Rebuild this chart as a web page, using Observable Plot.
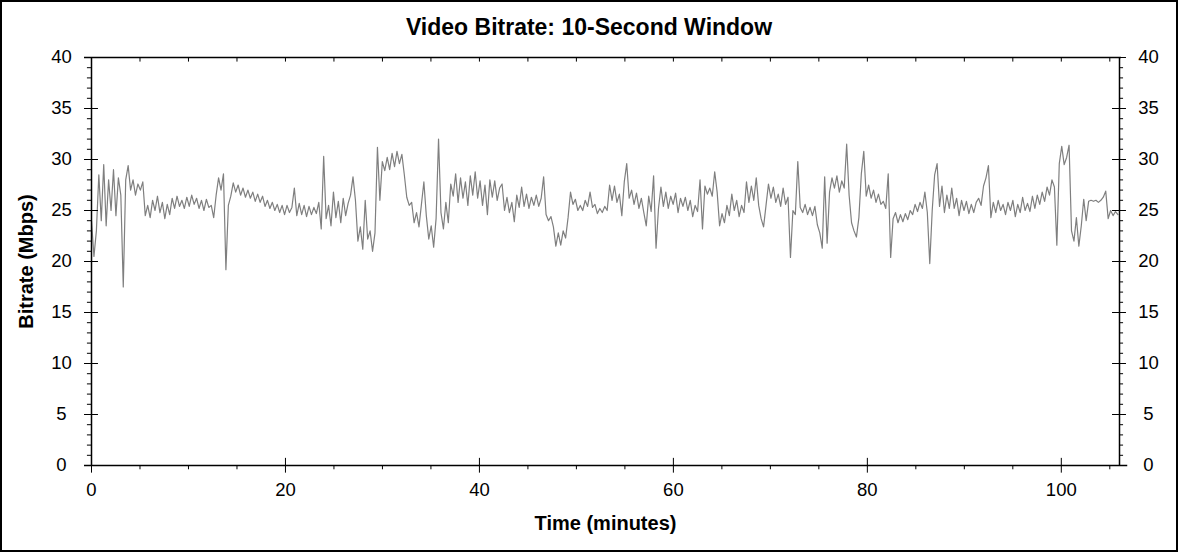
<!DOCTYPE html>
<html>
<head>
<meta charset="utf-8">
<script src="https://cdn.jsdelivr.net/npm/d3@7"></script>
<script src="https://cdn.jsdelivr.net/npm/@observablehq/plot@0.6"></script>
<style>
  body { margin: 0; background: #fff; font-family: "Liberation Sans", Arial, sans-serif; }
  #wrap { width: 1178px; height: 552px; box-sizing: border-box; border: 2px solid #000; background: #fff; }
  #title { height: 44px; line-height: 50px; text-align: center; font-weight: bold; font-size: 23px; }
  #chart svg { display: block; overflow: visible; }
</style>
</head>
<body>
<div id="wrap">
  <div id="title">Video Bitrate: 10-Second Window</div>
  <div id="chart"></div>
</div>
<script>
// bitrate (Mbps), one value per 0.252 minutes
const bitrate = [
  24, 20.5, 23, 28.5,   24, 29.5, 23.5, 28,   25, 29, 24.5, 28.2,   26.5, 17.5, 28, 29.4,   27, 28, 26.5, 27.6,
  27, 27.8, 24.5, 25.5,   24.3, 26, 25, 26.4,   24.8, 25.8, 24.2, 25.6,   24.6, 26.2, 25.2, 26.4,   25.4, 26, 25.2, 26.3,
  25.4, 26.5, 25.6, 26.2,   25.2, 26, 25, 26.1,   25.3, 25.5, 24.3, 26.5,   28.2, 27, 28.6, 19.2,   25.5, 26.4, 27.7, 26.8,
  27.5, 26.5, 27.2, 26.3,   27, 26.2, 26.8, 25.9,   26.6, 25.8, 26.4, 25.4,   26, 25.2, 25.8, 25,   25.6, 24.8, 25.5, 24.6,
  25.5, 24.8, 25.3, 27.2,   24.5, 25.7, 24.6, 25.5,   24.4, 25.4, 24.6, 25.3,   24.7, 25.8, 23.2, 30.3,   24.2, 25.5, 23.5, 26.8,
  24.3, 25.9, 23.8, 26.2,   24.5, 25.7, 26.5, 28.3,   26, 22, 23.4, 21.2,   26, 22.2, 23, 21,   22.8, 31.2, 26, 29.8,
  28.9, 30.2, 29, 30.6,   29.3, 30.8, 29.6, 30.5,   28.5, 26.3, 25.5, 25.8,   23.8, 24.8, 23.4, 25.6,   27.8, 24.5, 22.2, 23.5,
  21.4, 24.2, 32, 24.8,   23.2, 25.8, 23.8, 27.6,   26.4, 28.6, 25.8, 28.2,   26.2, 27.8, 25.5, 28.4,   26.5, 28.8, 26.2, 27.9,
  25.5, 27.5, 24.6, 28,   26.3, 27.9, 26, 27.2,   27.6, 25, 26.3, 24.8,   25.8, 23.9, 26.5, 25.3,   27.3, 25.4, 26.6, 25.2,
  26.3, 25.5, 26.5, 25.4,   26.2, 28.3, 24.6, 24,   24.4, 23.4, 21.5, 22.8,   21.6, 23, 22.3, 24.3,   26.8, 25.6, 26.1, 25,
  25.5, 25, 26, 25.4,   26.8, 25.3, 25.6, 24.7,   25.2, 24.8, 25.4, 25,   27.5, 26, 27.4, 25.8,   26.6, 24.5, 27.8, 29.6,
  26.2, 27, 25.6, 26.7,   25.2, 26.2, 24.8, 23.5,   26.4, 24.9, 28.4, 21.3,   25.2, 27.3, 25.4, 26.8,   25.2, 26.4, 25.6, 26.7,
  24.8, 26.2, 25.4, 26.3,   25, 26, 24.4, 25.5,   24.9, 28, 23.2, 27.4,   26.6, 27.2, 26.4, 28.8,   26.8, 23.5, 24.7, 23.8,
  25.5, 24.5, 26.6, 25,   26, 24.4, 25.5, 24.8,   27.8, 25.8, 27.4, 26,   28.2, 25.5, 24.2, 23.4,   25.5, 27.6, 26.2, 27.3,
  25.8, 26.6, 25.4, 27.2,   25.6, 26.3, 20.4, 25,   24.6, 29.8, 25.3, 24.8,   25.6, 24.6, 25.3, 24.5,   25.4, 23.6, 22.8, 21.3,
  28.3, 21.8, 26.8, 28.2,   27.2, 28.4, 26.8, 27.9,   27.2, 31.5, 26.5, 23.8,   23, 22.4, 24.3, 28.6,   30.8, 26.4, 27.5, 26.2,
  27, 25.8, 26.6, 25.6,   25.9, 25.2, 28.6, 20.4,   24.2, 24.8, 23.8, 24.6,   23.9, 24.7, 24.1, 25,   24.6, 25.6, 24.9, 25.8,
  25.2, 26.8, 24.8, 19.8,   25, 28.5, 29.6, 25.4,   27.4, 24.8, 26.5, 25.2,   27.2, 25.2, 26.2, 24.5,   26, 25, 25.9, 24.7,
  25.6, 24.8, 25.8, 26.2,   25.5, 27.4, 28.2, 29.4,   24.3, 25.8, 24.8, 26,   25, 25.6, 24.6, 25.8,   25, 26, 24.4, 25.6,
  24.8, 26.3, 25, 25.7,   24.9, 26.4, 25.2, 26.5,   25.6, 26.8, 25.9, 27.3,   26.5, 28, 27.3, 21.6,   29.6, 31.3, 29.5, 30.2,
  31.4, 23, 22, 24.3,   21.5, 23.5, 26.1, 24,   25.9, 26, 25.9, 26,   25.8, 26, 26.3, 26.9,   24.2, 25, 24.5, 24.9,
  24.6
];
const step = 0.252; // minutes between samples

const xMajor = [0, 20, 40, 60, 80, 100];
const xMinor = [5, 10, 15, 25, 30, 35, 45, 50, 55, 65, 70, 75, 85, 90, 95, 105];
const xTop = [5, 10, 15, 20, 25, 30, 35, 40, 45, 50, 55, 60, 65, 70, 75, 80, 85, 90, 95, 100, 105];
const yMajor = [0, 5, 10, 15, 20, 25, 30, 35, 40];
const yMinor = d3.range(0, 41).filter(v => v % 5 !== 0);

const xMax = 106;
const data = bitrate.map((v, i) => ({t: i * step, v}));

const font = "'Liberation Sans', Arial, sans-serif";

const chart = Plot.plot({
  width: 1174,
  height: 504,
  marginLeft: 89,
  marginRight: 57,
  marginTop: 11,
  marginBottom: 85,
  style: {fontFamily: font, background: "#fff", color: "#000"},
  x: {domain: [0, xMax]},
  y: {domain: [0, 40]},
  marks: [
    Plot.line(data, {x: "t", y: "v", stroke: "#7f7f7f", strokeWidth: 1.2}),

    // frame lines
    Plot.ruleY([0], {x1: -0.72, x2: xMax + 0.85, stroke: "#000", strokeWidth: 1.5}),
    Plot.ruleY([40], {x1: -0.72, x2: xMax + 0.2, stroke: "#000", strokeWidth: 1.5}),
    Plot.ruleX([0], {y1: 0, y2: 40, stroke: "#000", strokeWidth: 1.5}),
    Plot.ruleX([xMax], {y1: 0, y2: 40, stroke: "#000", strokeWidth: 1.5}),

    // y ticks
    Plot.ruleY(yMajor, {x1: -0.72, x2: 0.72, stroke: "#000"}),
    Plot.ruleY(yMajor, {x1: xMax - 0.72, x2: xMax + 0.72, stroke: "#000"}),
    Plot.ruleY(yMinor, {x1: -0.42, x2: 0, stroke: "#000"}),
    Plot.ruleY(yMinor, {x1: xMax, x2: xMax + 0.42, stroke: "#000"}),

    // x ticks
    Plot.ruleX(xMajor, {y1: -0.75, y2: 0.7, stroke: "#000"}),
    Plot.ruleX(xMinor, {y1: -0.42, y2: 0, stroke: "#000"}),
    Plot.ruleX(xTop, {y1: 39.55, y2: 40, stroke: "#000"}),

    // tick labels
    Plot.axisY({anchor: "left", ticks: yMajor, tickSize: 0, tickPadding: 30, textAnchor: "middle", fontSize: 18.5, label: null}),
    Plot.axisY({anchor: "right", ticks: yMajor, tickSize: 0, tickPadding: 29, textAnchor: "middle", fontSize: 18.5, label: null}),
    Plot.axisX({anchor: "bottom", ticks: xMajor, tickSize: 0, tickPadding: 17, fontSize: 18.5, label: null}),

    // axis titles
    Plot.text(["Time (minutes)"], {frameAnchor: "bottom", dy: 58, lineAnchor: "middle", text: d => d, fontSize: 20, fontWeight: "bold"}),
    Plot.text(["Bitrate (Mbps)"], {frameAnchor: "left", dx: -65, rotate: -90, textAnchor: "middle", text: d => d, fontSize: 20, fontWeight: "bold"})
  ]
});

document.getElementById("chart").append(chart);
</script>
</body>
</html>
